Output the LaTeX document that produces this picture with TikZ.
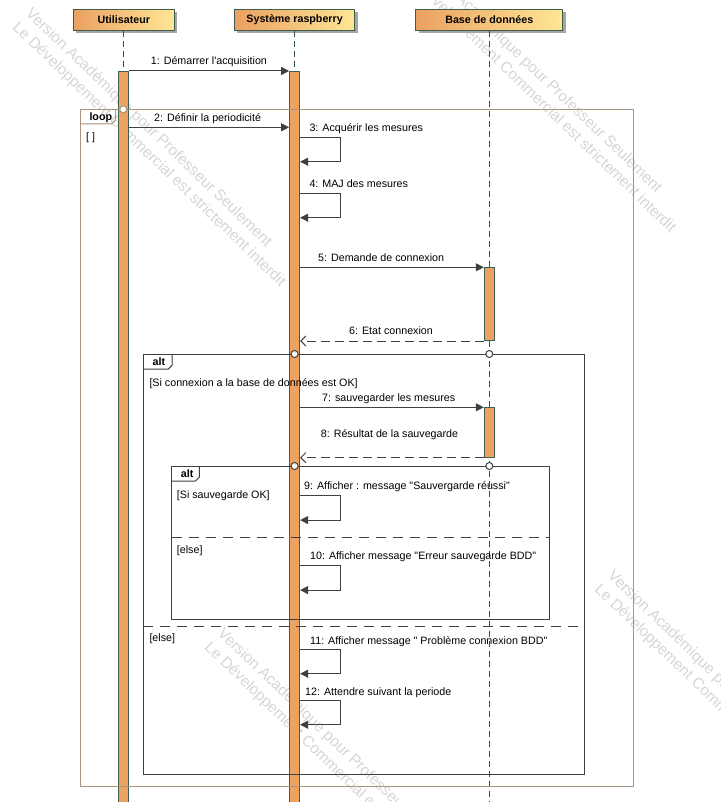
\documentclass[tikz,border=0pt]{standalone}
\usepackage{fontspec}
\setmainfont{Liberation Sans}[Ligatures=TeXOff]
\usetikzlibrary{arrows.meta,shadows}
\definecolor{hdrL}{HTML}{EBA062}
\definecolor{hdrR}{HTML}{FFE696}
\definecolor{hdrB}{HTML}{3C5C4E}
\definecolor{shad}{HTML}{A6A6A6}
\definecolor{lifeC}{HTML}{2F4F47}
\definecolor{actF}{HTML}{EEA262}
\definecolor{actB}{HTML}{3E5E4E}
\definecolor{msgC}{HTML}{404040}
\definecolor{loopC}{HTML}{A8947E}
\definecolor{altC}{HTML}{404040}
\definecolor{wmC}{HTML}{D6D6D6}
\tikzset{
  hdr/.style={draw=hdrB, line width=1pt, left color=hdrL, right color=hdrR,
    font=\bfseries\fontsize{10.7}{12}\selectfont, inner sep=0, minimum height=20.7pt,
    drop shadow={shadow xshift=3pt, shadow yshift=-3pt, fill=shad, opacity=1}},
  life/.style={draw=lifeC, line width=1pt, dash pattern=on 6pt off 4pt},
  actbar/.style={draw=actB, fill=actF, line width=1pt, minimum width=10pt, inner sep=0, anchor=north},
  msg/.style={draw=msgC, line width=1pt, -{Triangle[length=8pt,width=8pt]}},
  reply/.style={draw=msgC, line width=1pt, dash pattern=on 9pt off 5pt, -{Straight Barb[length=5pt,width=10pt]}},
  lbl/.style={anchor=base west, inner sep=0, font=\fontsize{10.7}{12}\selectfont},
  tabtxt/.style={anchor=base west, inner sep=0, font=\bfseries\fontsize{10.7}{12}\selectfont},
  loopframe/.style={draw=loopC, line width=1pt},
  altframe/.style={draw=altC, line width=1pt},
  sep/.style={draw=altC, line width=1pt, dash pattern=on 10pt off 7pt},
  xing/.style={circle, fill=white, line width=1pt, inner sep=0, minimum size=7pt},
  wm/.style={anchor=north west, rotate=-44, align=left, text=wmC, inner sep=0,
    font=\fontsize{15.5}{19}\selectfont}
}
\begin{document}
\begin{tikzpicture}[x=1pt,y=-1pt]
\useasboundingbox (0,0) rectangle (720,802);
\clip (0,0) rectangle (720,802);
\fill[white] (0,0) rectangle (720,802);

% watermarks
\foreach \wx/\wy [count=\i] in {33/6, 423/-48, 225/626, 615/568}{
  \node[wm] (wm\i) at (\wx,\wy) {Version Académique pour Professeur Seulement\\Le Développement Commercial est strictement interdit};
}

% headers
\node[hdr, minimum width=101pt] (u) at (123.8,19.7) {Utilisateur};
\node[hdr, minimum width=120.7pt] (s) at (294.6,19.7) {Système raspberry};
\node[hdr, minimum width=146.7pt] (b) at (489.3,19.7) {Base de données};

% lifelines
\coordinate (uend) at (123.3,802);
\coordinate (send) at (294.6,802);
\coordinate (bend) at (489.3,802);
\draw[life] (u.south -| uend) -- (uend);
\draw[life] (s.south -| send) -- (send);
\draw[life] (b.south -| bend) -- (bend);

% activation bars
\node[actbar, minimum height=745pt] (ua) at (123.3,71) {};
\node[actbar, minimum height=745pt] (sa) at (294.6,71) {};
\node[actbar, minimum height=72.7pt] (ba1) at (489.3,267.3) {};
\node[actbar, minimum height=49.4pt] (ba2) at (489.3,407.3) {};

% frames
\draw[loopframe] (80,109.3) rectangle (633.3,786.7);
\draw[loopframe] (80,124) -- (111.7,124) -- (115.5,120.2) -- (115.5,109.3);
\node[tabtxt] (tloop) at (89.3,120.8) {loop};
\node[lbl] (gloop) at (86,141) {[ ]};

\draw[altframe] (143.3,354) rectangle (584.3,774.3);
\draw[altframe] (143.3,369) -- (168.3,369) -- (172,365.3) -- (172,354);
\node[tabtxt] (talt1) at (152.5,365.5) {alt};
\draw[sep] (143.3,626) -- (584.3,626);

\draw[altframe] (171.7,466) rectangle (549.3,619);
\draw[altframe] (171.7,481) -- (195.5,481) -- (199.3,477.2) -- (199.3,466);
\node[tabtxt] (talt2) at (180.7,477.5) {alt};
\draw[sep] (171.7,537.3) -- (549.3,537.3);

% crossing circles
\node[xing, draw=loopC] (c0) at (123.3,109.3) {};
\node[xing, draw=altC] (c1) at (294.6,354) {};
\node[xing, draw=altC] (c2) at (489.3,354) {};
\node[xing, draw=altC] (c3) at (294.6,466) {};
\node[xing, draw=altC] (c4) at (489.3,466) {};

% guards
\node[lbl] (g1) at (149.3,386.5) {[Si connexion a la base de données est OK]};
\node[lbl] (g2) at (176.7,498) {[Si sauvegarde OK]};
\node[lbl] (g3) at (176.7,553) {[else]};
\node[lbl] (g4) at (149.3,641.5) {[else]};

% messages
\draw[msg] (ua.east |- 0,71) -- (sa.west |- 0,71);
\node[lbl] (l1) at (150.7,65) {1: Démarrer l'acquisition};

\draw[msg] (ua.east |- 0,127.3) -- (sa.west |- 0,127.3);
\node[lbl] (l2) at (154,121.5) {2: Définir la periodicité};

\draw[msg] (sa.east |- 0,137.3) -- ++(40,0) -- ++(0,24.4) -- ++(-40,0);
\node[lbl] (l3) at (309.3,131.5) {3: Acquérir les mesures};

\draw[msg] (sa.east |- 0,193.3) -- ++(40,0) -- ++(0,24.4) -- ++(-40,0);
\node[lbl] (l4) at (309.3,187.3) {4: MAJ des mesures};

\draw[msg] (sa.east |- ba1.north) -- (ba1.north west);
\node[lbl] (l5) at (318,261.5) {5: Demande de connexion};

\draw[reply] (ba1.south west) -- (sa.east |- ba1.south);
\node[lbl] (l6) at (349,334.3) {6: Etat connexion};

\draw[msg] (sa.east |- ba2.north) -- (ba2.north west);
\node[lbl] (l7) at (322,401.5) {7: sauvegarder les mesures};

\draw[reply] (ba2.south west) -- (sa.east |- ba2.south);
\node[lbl] (l8) at (320.7,437.3) {8: Résultat de la sauvegarde};

\draw[msg] (sa.east |- 0,495.7) -- ++(40,0) -- ++(0,24.4) -- ++(-40,0);
\node[lbl] (l9) at (304,489) {9: Afficher : message "Sauvergarde réussi"};

\draw[msg] (sa.east |- 0,565.7) -- ++(40,0) -- ++(0,24.4) -- ++(-40,0);
\node[lbl] (l10) at (310,559.3) {10: Afficher message "Erreur sauvegarde BDD"};

\draw[msg] (sa.east |- 0,649.3) -- ++(40,0) -- ++(0,24.4) -- ++(-40,0);
\node[lbl] (l11) at (310,644) {11: Afficher message " Problème connexion BDD"};

\draw[msg] (sa.east |- 0,700.3) -- ++(40,0) -- ++(0,24.4) -- ++(-40,0);
\node[lbl] (l12) at (305,695) {12: Attendre suivant la periode};
\end{tikzpicture}
\end{document}
